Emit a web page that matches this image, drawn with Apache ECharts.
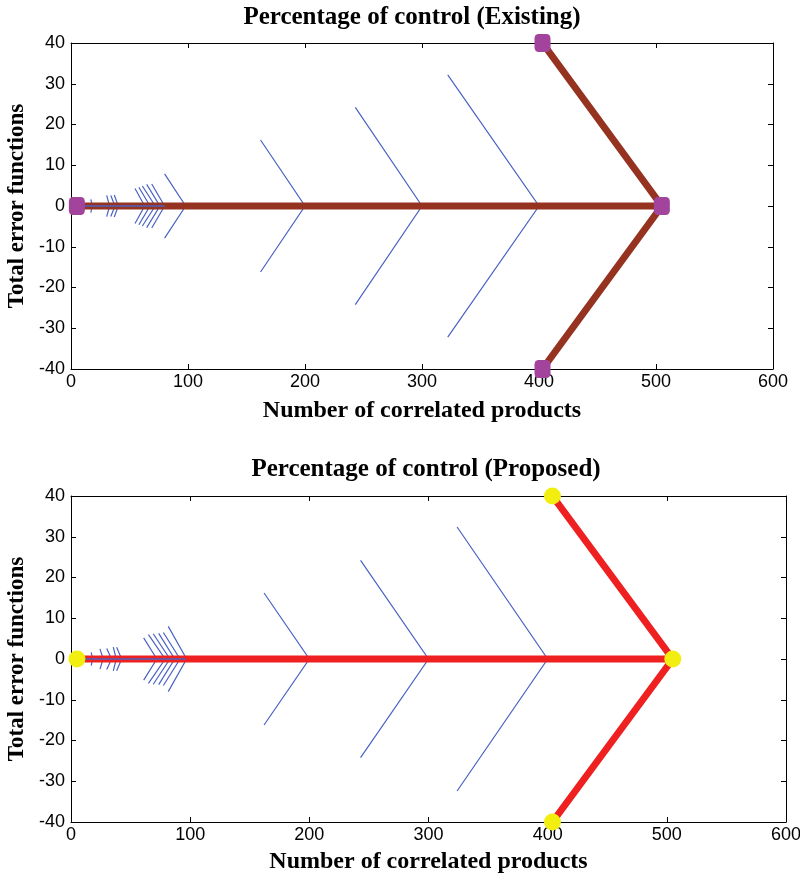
<!DOCTYPE html>
<html>
<head>
<meta charset="utf-8">
<script src="https://cdn.jsdelivr.net/npm/echarts@6/dist/echarts.min.js"></script>
<style>html,body{margin:0;padding:0;background:#fff;}#c{width:800px;height:880px;}</style>
</head>
<body>
<div id="c"></div>
<script>
// ---- data ----
const titles = ['Percentage of control (Existing)', 'Percentage of control (Proposed)'];
const xAxisTitle = 'Number of correlated products';
const yAxisTitle = 'Total error functions';
const xTicks = [0, 100, 200, 300, 400, 500, 600];
const yTicks = [-40, -30, -20, -10, 0, 10, 20, 30, 40];

// spine and head of each fishbone
const spineTop = [[5, 0], [505, 0]];
const headTop = [[403, 40], [505, 0], [403, -40]];
const markersTop = [[5, 0], [403, 40], [505, 0], [403, -40]];
const spineBot = [[5, 0], [505, 0]];
const headBot = [[404, 40], [505, 0], [404, -40]];
const markersBot = [[5, 0], [404, 40], [505, 0], [404, -40]];

// blue ribs: vertex x, tip x, tip half-height
const ribVertexTop = [18, 33, 37.6, 40.4, 63, 67.5, 72, 76, 80, 98, 200, 300, 400];
const ribTipXTop   = [17, 30.5, 34, 37, 54.7, 58, 61, 64.7, 69, 80, 162, 243, 322];
const ribTipYTop   = [1.6, 2.6, 2.6, 2.7, 4.3, 4.6, 4.9, 5.3, 5.4, 7.9, 16.2, 24.2, 32.2];
const blueSpineTop = [[5, 0], [80, 0]];

const ribVertexBot = [18, 27, 34, 38, 42.5, 72, 79, 83, 87, 91.5, 97, 200, 300, 400];
const ribTipXBot   = [17, 24.3, 30, 35.5, 38.3, 61, 65, 69, 73.6, 77.5, 81.6, 162, 243, 324];
const ribTipYBot   = [1.6, 2.5, 2.6, 2.9, 2.9, 5.2, 6.0, 6.2, 6.3, 6.5, 8.0, 16.2, 24.2, 32.4];
const blueSpineBot = [[5, 0], [96, 0]];

// ---- build ----
const tickFont = "'Liberation Sans Narrow', 'Liberation Sans', sans-serif";
const serif = "'Liberation Serif', 'DejaVu Serif', serif";

function ribs(vx, tx, ty) {
  return vx.map((v, i) => ({ coords: [[tx[i], ty[i]], [v, 0], [tx[i], -ty[i]]] }));
}

const grids = [
  { left: 71, top: 43, width: 702, height: 326, outerBoundsMode: 'none', containLabel: false },
  { left: 71, top: 496, width: 715, height: 326, outerBoundsMode: 'none', containLabel: false }
];
const xNameGaps = [30, 28];

const xAxes = [], yAxes = [];
grids.forEach((g, gi) => {
  const common = {
    gridIndex: gi, type: 'value',
    axisLine: { show: true, onZero: false, lineStyle: { color: '#000', width: 1 } },
    axisTick: { show: true, inside: true, length: 5, lineStyle: { color: '#000' } },
    splitLine: { show: false }
  };
  xAxes.push(Object.assign({}, common, {
    position: 'bottom', min: xTicks[0], max: xTicks[xTicks.length - 1], interval: 100,
    axisLabel: { color: '#000', fontFamily: tickFont, fontSize: 18, margin: 4 },
    name: xAxisTitle, nameLocation: 'middle', nameGap: xNameGaps[gi],
    nameTextStyle: { color: '#000', fontFamily: serif, fontWeight: 'bold', fontSize: 24 }
  }));
  xAxes.push(Object.assign({}, common, {
    position: 'top', min: xTicks[0], max: xTicks[xTicks.length - 1], interval: 100,
    axisLabel: { show: false }
  }));
  yAxes.push(Object.assign({}, common, {
    position: 'left', min: yTicks[0], max: yTicks[yTicks.length - 1], interval: 10,
    axisLabel: { color: '#000', fontFamily: tickFont, fontSize: 18, margin: 6 },
    name: yAxisTitle, nameLocation: 'middle', nameGap: 39,
    nameTextStyle: { color: '#000', fontFamily: serif, fontWeight: 'bold', fontSize: 23 }
  }));
  yAxes.push(Object.assign({}, common, {
    position: 'right', min: yTicks[0], max: yTicks[yTicks.length - 1], interval: 10,
    axisLabel: { show: false }
  }));
});

function chartSeries(gi, ribData, spine, head, markers, blueSpine, boneColor, markerColor, markerSymbol, markerSize) {
  const xi = gi * 2, yi = gi * 2;
  return [
    { type: 'lines', coordinateSystem: 'cartesian2d', xAxisIndex: xi, yAxisIndex: yi, polyline: true,
      data: ribData, lineStyle: { color: '#4a62c4', width: 1.2, opacity: 1 }, silent: true, z: 2 },
    { type: 'line', xAxisIndex: xi, yAxisIndex: yi, data: spine, symbol: 'none',
      lineStyle: { color: boneColor, width: 7 }, z: 3, animation: false },
    { type: 'line', xAxisIndex: xi, yAxisIndex: yi, data: head, symbol: 'none',
      lineStyle: { color: boneColor, width: 7 }, z: 3, animation: false },
    { type: 'line', xAxisIndex: xi, yAxisIndex: yi, data: blueSpine, symbol: 'none',
      lineStyle: { color: '#4a62c4', width: 1.5 }, z: 4, animation: false },
    { type: 'scatter', xAxisIndex: xi, yAxisIndex: yi, data: markers, symbol: markerSymbol,
      symbolSize: markerSize, itemStyle: { color: markerColor, opacity: 1 }, clip: false, z: 5, animation: false }
  ];
}

const series = [].concat(
  chartSeries(0, ribs(ribVertexTop, ribTipXTop, ribTipYTop), spineTop, headTop, markersTop, blueSpineTop,
    '#963320', '#a3449c', 'roundRect', [16, 18]),
  chartSeries(1, ribs(ribVertexBot, ribTipXBot, ribTipYBot), spineBot, headBot, markersBot, blueSpineBot,
    '#ee2020', '#f2ee10', 'circle', 17)
);

const chart = echarts.init(document.getElementById('c'), null, { renderer: 'canvas' });
chart.setOption({
  animation: false,
  backgroundColor: '#fff',
  grid: grids,
  xAxis: xAxes,
  yAxis: yAxes,
  series: series,
  graphic: [
    { type: 'text', x: 412, y: 5, style: { text: titles[0], font: "bold 25px 'Liberation Serif', serif", fill: '#000', textAlign: 'center', textVerticalAlign: 'top' } },
    { type: 'text', x: 426, y: 457, style: { text: titles[1], font: "bold 25px 'Liberation Serif', serif", fill: '#000', textAlign: 'center', textVerticalAlign: 'top' } }
  ]
});
</script>
</body>
</html>
